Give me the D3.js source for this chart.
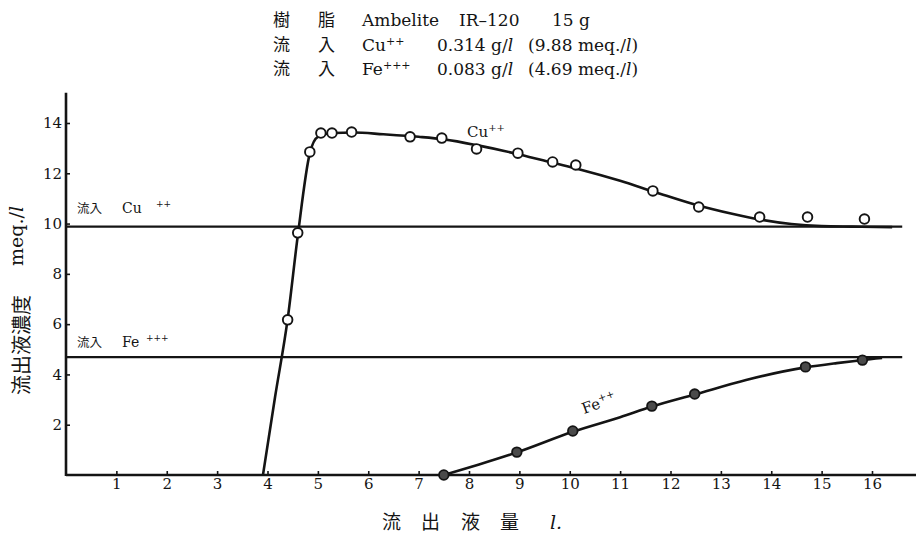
<!DOCTYPE html>
<html>
<head>
<meta charset="utf-8">
<script src="https://cdn.jsdelivr.net/npm/d3@7"></script>
<style>
  html, body { margin: 0; padding: 0; background: #fff; }
  svg { display: block; }
  .serif { font-family: "DejaVu Serif", "Liberation Serif", serif; }
  .cjk { font-family: "Noto Sans CJK JP", "Noto Sans CJK SC", sans-serif; }
</style>
</head>
<body>
<svg id="chart" width="916" height="534"></svg>
<script>
// Effluent volume (l) and concentration (meq./l) — measured Cu++ points
const cuX = [4.40, 4.60, 4.84, 5.06, 5.28, 5.67, 6.83, 7.46, 8.15, 8.97, 9.66, 10.12, 11.65, 12.56, 13.77, 14.72, 15.85];
const cuY = [6.17, 9.63, 12.85, 13.60, 13.60, 13.64, 13.45, 13.40, 12.97, 12.80, 12.45, 12.33, 11.30, 10.66, 10.26, 10.26, 10.18];

// Smoothed breakthrough curve for Cu++
const cuFitX = [3.91, 4.15, 4.40, 4.60, 4.84, 5.00, 5.30, 5.70, 6.30, 7.00, 7.50, 8.20, 9.00, 9.70, 10.20, 11.00, 11.70, 12.50, 13.20, 13.80, 14.40, 15.00, 15.60, 16.40];
const cuFitY = [0.00, 3.10, 6.20, 9.50, 12.80, 13.45, 13.60, 13.62, 13.55, 13.45, 13.35, 13.10, 12.75, 12.40, 12.15, 11.70, 11.25, 10.75, 10.40, 10.15, 9.98, 9.90, 9.88, 9.86];

// Measured Fe points
const feX = [7.50, 8.95, 10.06, 11.63, 12.48, 14.68, 15.81];
const feY = [0.00, 0.91, 1.75, 2.74, 3.22, 4.30, 4.57];

// Smoothed curve for Fe
const feFitX = [7.50, 8.20, 8.95, 10.06, 11.00, 11.63, 12.48, 13.50, 14.68, 15.30, 15.81, 16.20];
const feFitY = [0.00, 0.42, 0.90, 1.72, 2.30, 2.72, 3.20, 3.78, 4.28, 4.45, 4.57, 4.66];

// Influent concentrations (meq./l)
const inflowCu = 9.88;
const inflowFe = 4.69;

const xTicks = [1, 2, 3, 4, 5, 6, 7, 8, 9, 10, 11, 12, 13, 14, 15, 16];
const yTicks = [2, 4, 6, 8, 10, 12, 14];

const svg = d3.select("#chart");
const x = d3.scaleLinear().domain([0, 16]).range([66, 872]);
const y = d3.scaleLinear().domain([0, 14]).range([475, 123]);
const ink = "#141414";

// Axes
const xAxis = d3.axisBottom(x).tickValues(xTicks).tickSize(-4).tickSizeOuter(0).tickPadding(3);
const yAxis = d3.axisLeft(y).tickValues(yTicks).tickSize(-4).tickSizeOuter(0).tickPadding(4);

const gx = svg.append("g").attr("transform", `translate(0,${y(0)})`).call(xAxis);
const gy = svg.append("g").attr("transform", `translate(${x(0)},0)`).call(yAxis);
[gx, gy].forEach(g => {
  g.select(".domain").remove();
  g.selectAll(".tick line").attr("stroke", ink).attr("stroke-width", 1.6);
  g.selectAll(".tick text").attr("class", "serif").attr("font-size", 15).attr("fill", ink);
});

svg.append("line")
  .attr("x1", x(0)).attr("x2", x(16.95))
  .attr("y1", y(0)).attr("y2", y(0))
  .attr("stroke", ink).attr("stroke-width", 2.6);
svg.append("line")
  .attr("x1", x(0)).attr("x2", x(0))
  .attr("y1", y(0) + 1).attr("y2", y(15.2))
  .attr("stroke", ink).attr("stroke-width", 2.6);

// Influent reference lines
[inflowCu, inflowFe].forEach(v => {
  svg.append("line")
    .attr("x1", x(0)).attr("x2", x(16.6))
    .attr("y1", y(v)).attr("y2", y(v))
    .attr("stroke", ink).attr("stroke-width", 2.1);
});

// Curves
const line = d3.line().x(d => x(d[0])).y(d => y(d[1])).curve(d3.curveMonotoneX);
svg.append("path")
  .datum(d3.zip(cuFitX, cuFitY))
  .attr("d", line).attr("fill", "none").attr("stroke", ink).attr("stroke-width", 2.6);
svg.append("path")
  .datum(d3.zip(feFitX, feFitY))
  .attr("d", line).attr("fill", "none").attr("stroke", ink).attr("stroke-width", 2.6);

// Points
svg.append("g").selectAll("circle")
  .data(d3.zip(cuX, cuY)).join("circle")
  .attr("cx", d => x(d[0])).attr("cy", d => y(d[1])).attr("r", 4.8)
  .attr("fill", "#fff").attr("stroke", ink).attr("stroke-width", 1.9);
svg.append("g").selectAll("circle")
  .data(d3.zip(feX, feY)).join("circle")
  .attr("cx", d => x(d[0])).attr("cy", d => y(d[1])).attr("r", 4.8)
  .attr("fill", "#4a4a4a").attr("stroke", ink).attr("stroke-width", 1.8);

// Curve labels
const cuLab = svg.append("text").attr("class", "serif").attr("font-size", 15).attr("fill", ink)
  .attr("x", 467).attr("y", 137);
cuLab.append("tspan").text("Cu");
cuLab.append("tspan").attr("font-size", 10).attr("dy", -6).text("++");

const feLab = svg.append("text").attr("class", "serif").attr("font-size", 15).attr("fill", ink)
  .attr("transform", "translate(584,414) rotate(-20)");
feLab.append("tspan").text("Fe");
feLab.append("tspan").attr("font-size", 10).attr("dy", -6).text("++");

// Influent line labels
function inflowLabel(yBase, ion, charge, ionX, chargeX) {
  svg.append("text").attr("class", "cjk").attr("font-size", 12.5).attr("fill", ink)
    .attr("x", 77).attr("y", yBase).text("流入");
  svg.append("text").attr("class", "serif").attr("font-size", 14).attr("fill", ink)
    .attr("x", ionX).attr("y", yBase).text(ion);
  svg.append("text").attr("class", "serif").attr("font-size", 9).attr("fill", ink)
    .attr("x", chargeX).attr("y", yBase - 6).text(charge);
}
inflowLabel(213, "Cu", "++", 122, 156);
inflowLabel(347, "Fe", "+++", 122, 146);

// Y axis title
svg.append("text").attr("class", "cjk").attr("font-size", 20).attr("fill", ink)
  .attr("text-anchor", "middle")
  .attr("transform", "translate(29,345) rotate(-90)").text("流出液濃度");
const yUnit = svg.append("text").attr("class", "serif").attr("font-size", 19).attr("fill", ink)
  .attr("text-anchor", "middle")
  .attr("transform", "translate(23,236) rotate(-90)");
yUnit.append("tspan").text("meq./");
yUnit.append("tspan").attr("font-style", "italic").text("l");

// X axis title
[["流", 382], ["出", 421], ["液", 461], ["量", 500]].forEach(([c, px]) => {
  svg.append("text").attr("class", "cjk").attr("font-size", 19).attr("fill", ink)
    .attr("x", px).attr("y", 529).text(c);
});
svg.append("text").attr("class", "serif").attr("font-size", 19).attr("fill", ink)
  .attr("x", 550).attr("y", 529).attr("font-style", "italic").text("l.");

// Heading block
function cjk(t, px, py) {
  svg.append("text").attr("class", "cjk").attr("font-size", 17).attr("fill", ink)
    .attr("x", px).attr("y", py).text(t);
}
function serif(px, py, parts) {
  const t = svg.append("text").attr("class", "serif").attr("font-size", 17).attr("fill", ink)
    .attr("x", px).attr("y", py);
  parts.forEach(p => {
    const s = t.append("tspan").text(p.t);
    if (p.i) s.attr("font-style", "italic");
    if (p.sup) s.attr("font-size", 11).attr("dy", -6);
  });
}
cjk("樹", 273, 26); cjk("脂", 318, 26);
serif(362, 26, [{ t: "Ambelite" }]);
serif(459, 26, [{ t: "IR–120" }]);
serif(552, 26, [{ t: "15 g" }]);

cjk("流", 273, 51); cjk("入", 318, 51);
serif(362, 51, [{ t: "Cu" }, { t: "++", sup: true }]);
serif(437, 51, [{ t: "0.314 g/" }, { t: "l", i: true }]);
serif(528, 51, [{ t: "(9.88 meq./" }, { t: "l", i: true }, { t: ")" }]);

cjk("流", 273, 75); cjk("入", 318, 75);
serif(362, 75, [{ t: "Fe" }, { t: "+++", sup: true }]);
serif(437, 75, [{ t: "0.083 g/" }, { t: "l", i: true }]);
serif(528, 75, [{ t: "(4.69 meq./" }, { t: "l", i: true }, { t: ")" }]);
</script>
</body>
</html>
